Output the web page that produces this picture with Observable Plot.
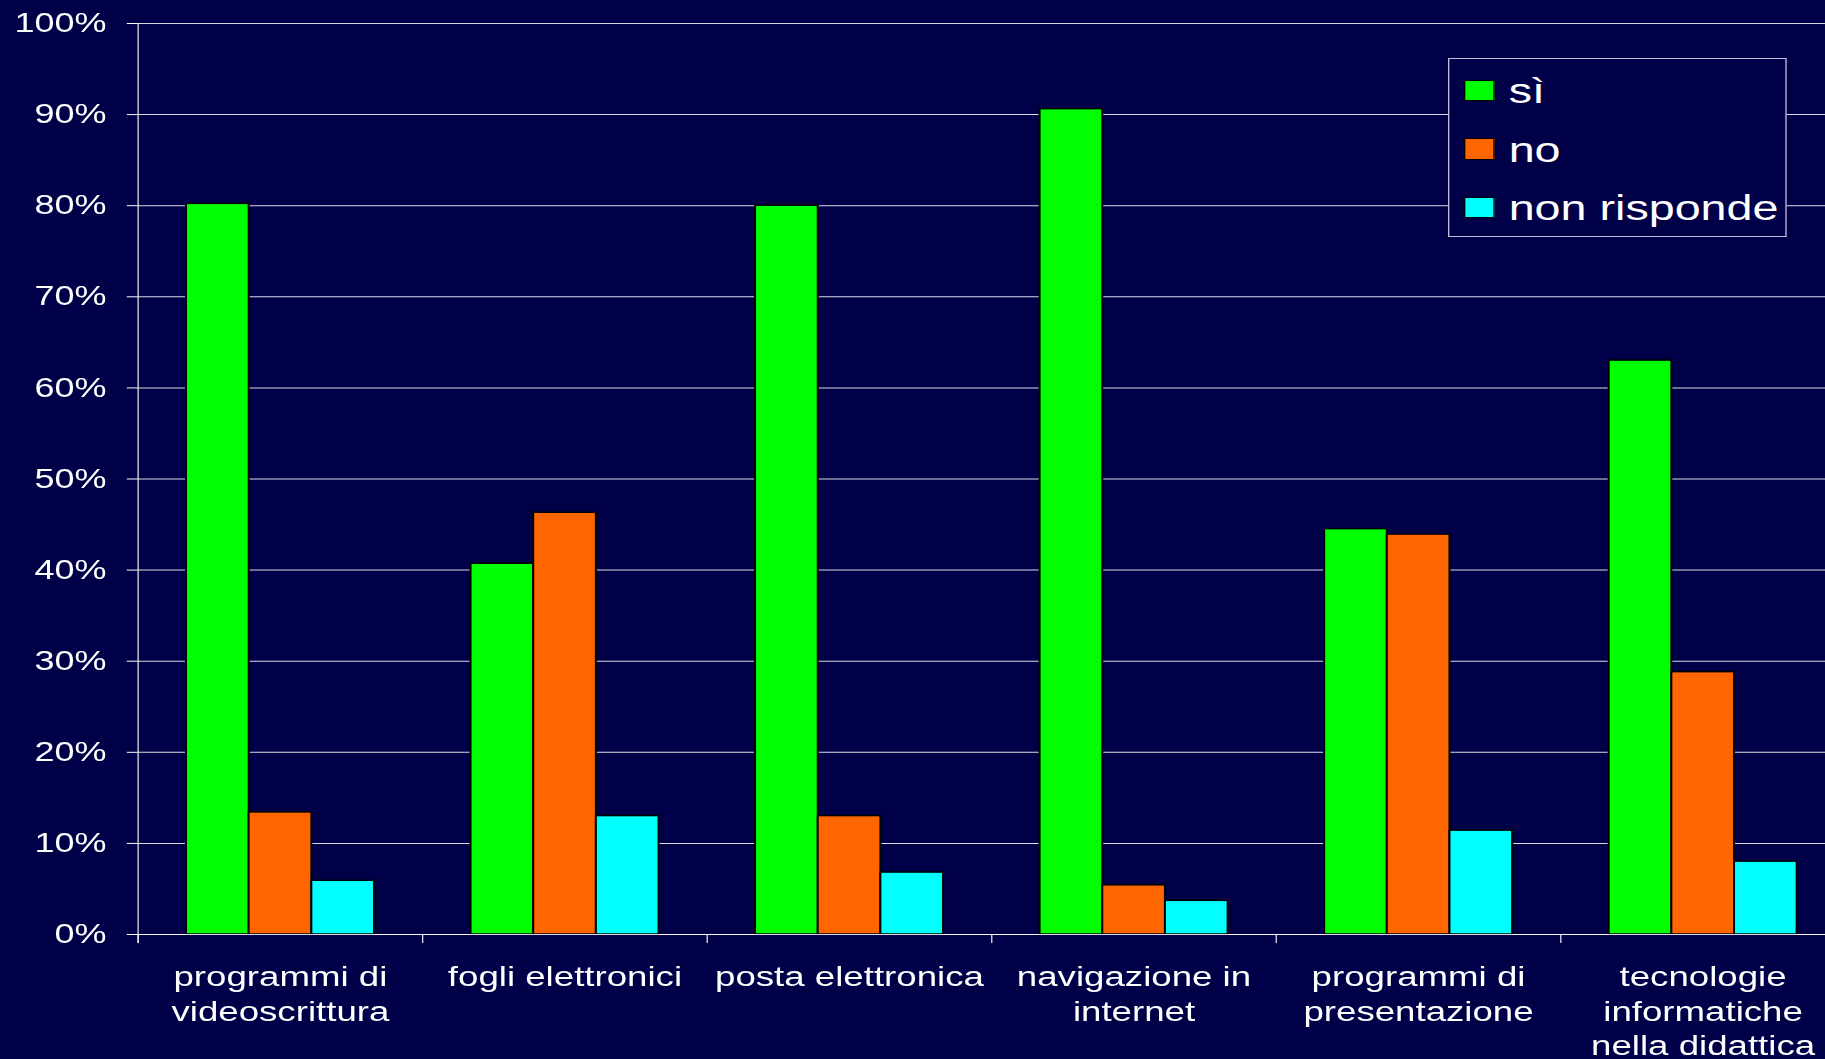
<!DOCTYPE html>
<html><head><meta charset="utf-8">
<script src="https://cdn.jsdelivr.net/npm/d3@7"></script>
<script src="https://cdn.jsdelivr.net/npm/@observablehq/plot@0.6"></script>
<style>
html,body{margin:0;padding:0;background:#000048;overflow:hidden;width:1825px;height:1059px;}
#wrap{position:relative;width:1368.75px;height:1059px;transform:scaleX(1.333333);transform-origin:0 0;font-family:"Liberation Sans",Arial,sans-serif;}
#legend{position:absolute;left:1085.8px;top:58.3px;width:254.7px;height:178.4px;box-sizing:border-box;border:1.5px solid rgba(225,225,245,0.85);background:#000048;padding-top:2px;}
.row{display:flex;align-items:center;height:58.5px;}
.sw{width:22.8px;height:21.7px;box-sizing:border-box;border:1.5px solid #000;margin-left:11px;margin-right:10.9px;flex:none;}
.lab{color:#fff;font-size:35px;line-height:1;white-space:nowrap;}
</style></head><body><div id="wrap"><div id="legend"></div></div>
<script>
// ---- data ----
const categories = [
  "programmi di\nvideoscrittura",
  "fogli elettronici",
  "posta elettronica",
  "navigazione in\ninternet",
  "programmi di\npresentazione",
  "tecnologie\ninformatiche\nnella didattica"
];
const seriesNames = ["sì", "no", "non risponde"];
const si          = [80.2, 40.7, 80.0, 90.6, 44.5, 63.0];
const no          = [13.4, 46.3, 13.0, 5.4, 43.9, 28.8];
const nonRisponde = [5.9, 13.0, 6.8, 3.7, 11.4, 8.0];
const seriesColors = ["#00ff00", "#ff6600", "#00ffff"];
const yTicks = [0, 10, 20, 30, 40, 50, 60, 70, 80, 90, 100];

// ---- layout (unstretched coordinates; whole chart is stretched 4:3 -> wide) ----
const W = 1368.75, H = 1059;
const x0 = 103.1, step = 213.4;
const yBottom = 934, yTop = 23;
const groupPad = 36.4, barW = 47;

const seriesValues = [si, no, nonRisponde];
const rows = categories.flatMap((c, i) =>
  seriesNames.map((s, j) => ({category: c, series: s, value: seriesValues[j][i]})));

const bars = seriesNames.map((s, j) => Plot.barY(rows.filter(d => d.series === s), {
  x: "category", y: "value",
  fill: seriesColors[j], stroke: "#000", strokeWidth: 1.5,
  insetLeft: groupPad + j * barW,
  insetRight: step - groupPad - (j + 1) * barW
}));

const chart = Plot.plot({
  width: W, height: H,
  marginLeft: x0, marginRight: 0, marginTop: yTop, marginBottom: H - yBottom,
  style: {background: "transparent", color: "white", fontFamily: "'Liberation Sans', Arial, sans-serif", overflow: "visible"},
  x: {domain: categories, range: [x0, x0 + step * categories.length], padding: 0, round: false, axis: null},
  y: {domain: [0, 100], range: [yBottom, yTop], axis: null, label: null},
  marks: [
    Plot.gridY(yTicks, {stroke: "white", strokeOpacity: 0.85, strokeWidth: 1}),
    Plot.axisY(yTicks, {tickSize: 8, tickPadding: 15.7, fontSize: 27, label: null, tickFormat: d => d + "%", stroke: "white", fill: "white"}),
    ...bars,
    Plot.ruleY([0], {stroke: "white", strokeOpacity: 0.8}),
    Plot.ruleX(categories, {x: d => d, dx: -step / 2, y1: 0, y2: 0, insetTop: 9, stroke: "white", strokeOpacity: 0.85}),
    Plot.ruleX(categories.slice(0, 1), {x: d => d, dx: -step / 2, y1: 0, y2: 100, insetTop: 9, stroke: "white", strokeOpacity: 0.85}),
    Plot.text(categories, {x: d => d, frameAnchor: "bottom", text: d => d, lineAnchor: "top", dy: 27.5, fontSize: 27.5, lineHeight: 1.25, fill: "white"})
  ]
});
document.getElementById("wrap").prepend(chart);

// legend
const legend = d3.select("#legend");
seriesNames.forEach((s, j) => {
  const row = legend.append("div").attr("class", "row");
  row.append("div").attr("class", "sw").style("background", seriesColors[j]);
  row.append("div").attr("class", "lab").text(s);
});
</script>
</body></html>
